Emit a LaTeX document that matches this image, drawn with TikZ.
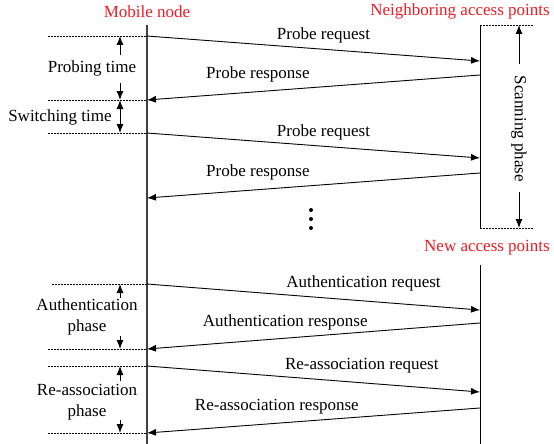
\documentclass[tikz,border=0pt]{standalone}
\usepackage{fontspec}
\setmainfont{Liberation Serif}
\usetikzlibrary{arrows.meta,positioning}
\definecolor{titlered}{RGB}{237,28,36}

\begin{document}
\begin{tikzpicture}[
		x=1pt, y=-1pt,
		>={Latex[length=9pt,width=7pt]},
		every node/.style={font=\fontsize{17}{21}\selectfont, inner sep=1pt},
		title/.style={text=titlered},
		msg/.style={->, line width=0.9pt},
		life/.style={line width=1.3pt, draw=black!75},
		guide/.style={dash pattern=on 1.5pt off 1.5pt, line width=0.8pt},
		span/.style={->, line width=1pt},
		]
		\useasboundingbox (0,0) rectangle (554,444);
		
		% titles
		\node[title] (mobile) at (147,12) {Mobile node};
		\node[title] (neigh) at (460,11) {Neighboring access points};
		\node[title] (newap) at (487,248) {New access points};
		
		% lifelines
		\coordinate (mtop) at (147,25);
		\coordinate (mbot) at (147,444);
		\coordinate (ntop) at (480,25);
		\coordinate (nbot) at (480,228);
		\coordinate (atop) at (480,265);
		\coordinate (abot) at (480,444);
		\draw[life] (mtop) -- (mbot);
		\draw[line width=1pt] (ntop) -- (nbot);
		\draw[line width=1pt] (atop) -- (abot);
		
		% message ends
		\coordinate (m1) at (147,36);  \coordinate (n1) at (480,61);
		\coordinate (n2) at (480,75);  \coordinate (m2) at (147,100);
		\coordinate (m3) at (147,133); \coordinate (n3) at (480,158);
		\coordinate (n4) at (480,173); \coordinate (m4) at (147,198);
		\coordinate (m5) at (147,284); \coordinate (a5) at (480,310);
		\coordinate (a6) at (480,323); \coordinate (m6) at (147,349);
		\coordinate (m7) at (147,366); \coordinate (a7) at (480,392);
		\coordinate (a8) at (480,408); \coordinate (m8) at (147,433);
		
		\draw[msg] (m1) -- node[above=4.5pt, pos=0.53] (preq1) {Probe request} (n1);
		\draw[msg] (n2) -- node[above=8pt, pos=0.667] (pres1) {Probe response} (m2);
		\draw[msg] (m3) -- node[above=4.5pt, pos=0.53] (preq2) {Probe request} (n3);
		\draw[msg] (n4) -- node[above=8pt, pos=0.667] (pres2) {Probe response} (m4);
		\draw[msg] (m5) -- node[above=8pt, pos=0.65] (aureq) {Authentication request} (a5);
		\draw[msg] (a6) -- node[above=7pt, pos=0.585] (aures) {Authentication response} (m6);
		\draw[msg] (m7) -- node[above=8pt, pos=0.645] (rareq) {Re-association request} (a7);
		\draw[msg] (a8) -- node[above=8pt, pos=0.61] (rares) {Re-association response} (m8);
		
		% more probes
		\fill (311,210) circle (2pt) (311,219) circle (2pt) (311,228) circle (2pt);
		
		% dotted guides
		\draw[guide] (48,36) -- (m1);
		\draw[guide] (48,100) -- (m2);
		\draw[guide] (48,133) -- (m3);
		\draw[guide] (52,284) -- (m5);
		\draw[guide] (48,349) -- (m6);
		\draw[guide] (48,366) -- (m7);
		\draw[guide] (48,433) -- (m8);
		\draw[guide] (ntop) -- (533,25);
		\draw[guide] (nbot) -- (533,228);
		
		% phases, left side
		\node (probing) at (92,68) {Probing time};
		\draw[span] (120,55) -- (120,36);
		\draw[span] (120,83) -- (120,100);
		\node (switching) at (60,117) {Switching time};
		\draw[<->, line width=1pt] (120,100) -- (120,133);
		\node[align=center] (auth) at (87,317) {Authentication\\phase};
		\draw[span] (120,298) -- (120,284);
		\draw[span] (120,336) -- (120,349);
		\node[align=center] (reassoc) at (87,402) {Re-association\\phase};
		\draw[span] (120,381) -- (120,366);
		\draw[span] (120,420) -- (120,433);
		
		% scanning phase
		\node[rotate=-90] (scan) at (519,129) {Scanning phase};
		\draw[span] (519,64) -- (519,25);
		\draw[span] (519,192) -- (519,228);
		
	\end{tikzpicture}
\end{document}
